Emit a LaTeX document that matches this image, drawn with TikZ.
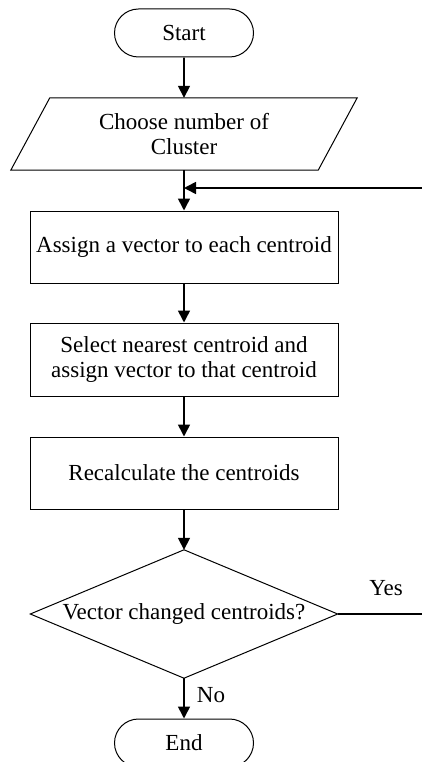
\documentclass[tikz,border=0pt]{standalone}
\usepackage{fontspec}
\setmainfont{Liberation Serif}
\usetikzlibrary{arrows.meta,shapes.misc}

\begin{document}
\begin{tikzpicture}[x=1pt,y=-1pt,
  every node/.style={font=\fontsize{23}{25.5}\selectfont},
  terminal/.style={draw, line width=1pt, rounded rectangle, minimum width=139pt, minimum height=48pt, inner sep=0pt},
  procbox/.style={draw, line width=1pt, rectangle, minimum width=308pt, minimum height=72pt, align=center, inner sep=0pt},
  outline/.style={line width=1pt, line join=miter},
  flow/.style={line width=1.6pt, -{Triangle[width=12pt,length=12pt]}},
  plain/.style={line width=1.6pt}
]
\useasboundingbox (0,0) rectangle (422,762);

% start / end terminals
\node[terminal] (start) at (184,33) {Start};
\node[terminal] (finish) at (184,743) {End};

% input parallelogram: the text node, with the slanted outline drawn around it
\node[minimum width=307pt, minimum height=72pt, align=center, inner sep=0pt] (input) at (184,134)
  {Choose number of\\Cluster};
\draw[outline] ([xshift=19.5pt]input.north west) -- ([xshift=19.5pt]input.north east)
  -- ([xshift=-19.5pt]input.south east) -- ([xshift=-19.5pt]input.south west) -- cycle;

% processing steps
\node[procbox] (assign) at (184,247) {Assign a vector to each centroid};
\node[procbox, minimum height=73pt] (select) at (184,359.5) {Select nearest centroid and\\assign vector to that centroid};
\node[procbox] (recalc) at (184,473) {Recalculate the centroids};

% decision: the text node, with the diamond outline through its side midpoints
\node[minimum width=307pt, minimum height=128pt, inner sep=0pt] (check) at (184,614) {Vector changed centroids?};
\draw[outline] (check.north) -- (check.east) -- (check.south) -- (check.west) -- cycle;

% loose ends of the loop-back path
\coordinate (yesEnd) at (422,614);
\coordinate (loopIn) at (422,188);

% connectors
\draw[flow] (start) -- (input.north);
\draw[flow] (input.south) -- (assign);
\draw[flow] (assign) -- (select);
\draw[flow] (select) -- (recalc);
\draw[flow] (recalc) -- (check.north);
\draw[flow] (check.south) -- (finish);
\draw[plain] (check.east) -- (yesEnd);
\draw[flow] (loopIn) -- (input.south |- loopIn);

% branch labels
\node (yes) at (386,588) {Yes};
\node (no) at (211,695) {No};
\end{tikzpicture}
\end{document}
